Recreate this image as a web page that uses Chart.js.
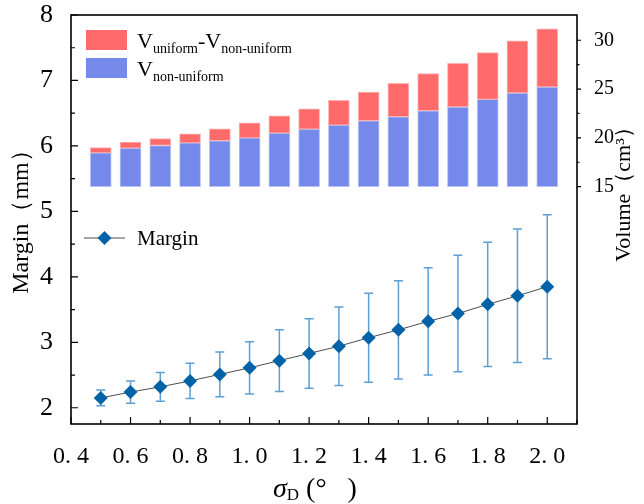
<!DOCTYPE html>
<html>
<head>
<meta charset="utf-8">
<script src="https://cdn.jsdelivr.net/npm/chart.js@4.4.0/dist/chart.umd.min.js"></script>
<style>
    body { margin: 0; background: #fff; }
    #wrap { width: 644px; height: 504px; }
</style>
</head>
<body>
<div id="wrap"><canvas id="chart" width="644" height="504"></canvas></div>
<script>
// values
var sigma = [0.5, 0.6, 0.7, 0.8, 0.9, 1.0, 1.1, 1.2, 1.3, 1.4, 1.5, 1.6, 1.7, 1.8, 1.9, 2.0];
var marginMean = [2.15, 2.24, 2.32, 2.41, 2.51, 2.61, 2.72, 2.83, 2.94, 3.07, 3.19, 3.32, 3.44, 3.58, 3.71, 3.85];
var marginSd = [0.12, 0.17, 0.22, 0.27, 0.34, 0.40, 0.47, 0.53, 0.60, 0.68, 0.75, 0.82, 0.89, 0.95, 1.02, 1.10];
var vNonUniform = [18.46, 18.95, 19.21, 19.49, 19.70, 20.00, 20.49, 20.90, 21.31, 21.75, 22.16, 22.78, 23.16, 23.94, 24.60, 25.21];
var vUniform = [19.00, 19.56, 19.93, 20.41, 20.93, 21.54, 22.26, 22.98, 23.84, 24.70, 25.58, 26.58, 27.64, 28.74, 29.94, 31.17];
var barBase = 15;

var xTicks = [0.4, 0.6, 0.8, 1.0, 1.2, 1.4, 1.6, 1.8, 2.0];
var xTickLabels = ['0. 4', '0. 6', '0. 8', '1. 0', '1. 2', '1. 4', '1. 6', '1. 8', '2. 0'];
var yTicks = [2, 3, 4, 5, 6, 7, 8];
var y2Ticks = [15, 20, 25, 30];

var RED = '#ff6b6b', BLUE = '#7489ea', DIAMOND = '#0063a8', ERR = '#5b9fd6';
var SERIF = '"Liberation Serif", "DejaVu Serif", serif';

function midpoints(arr) {
    var out = [];
    for (var i = 0; i < arr.length - 1; i++) out.push((arr[i] + arr[i + 1]) / 2);
    return out;
}

// draws a run of text pieces, some of them as subscripts
function drawRuns(ctx, runs, x, y) {
    runs.forEach(function (r) {
        ctx.font = r.font;
        ctx.fillText(r.t, x, y + (r.dy || 0));
        x += ctx.measureText(r.t).width;
    });
}

// keep the chart area fixed: no extra padding from edge labels
function noPad(s) {
    s.paddingLeft = 0; s.paddingRight = 0; s.paddingTop = 0; s.paddingBottom = 0;
}

var decorations = {
    id: 'decorations',
    beforeDatasetsDraw: function (chart) {
        var ctx = chart.ctx, xs = chart.scales.x, ys = chart.scales.y;
        ctx.save();
        ctx.strokeStyle = ERR;
        ctx.lineWidth = 1.5;
        sigma.forEach(function (s, i) {
            var px = xs.getPixelForValue(s);
            var top = ys.getPixelForValue(marginMean[i] + marginSd[i]);
            var bot = ys.getPixelForValue(marginMean[i] - marginSd[i]);
            ctx.beginPath();
            ctx.moveTo(px, top); ctx.lineTo(px, bot);
            ctx.moveTo(px - 4.5, top); ctx.lineTo(px + 4.5, top);
            ctx.moveTo(px - 4.5, bot); ctx.lineTo(px + 4.5, bot);
            ctx.stroke();
        });
        ctx.restore();
    },
    afterDraw: function (chart) {
        var ctx = chart.ctx, a = chart.chartArea;
        var xs = chart.scales.x, ys = chart.scales.y, y2 = chart.scales.y2;
        ctx.save();

        // frame
        ctx.strokeStyle = '#000';
        ctx.lineWidth = 1.6;
        ctx.strokeRect(a.left, a.top, a.right - a.left, a.bottom - a.top);

        // ticks: bottom and left inward, right outward
        ctx.lineWidth = 1.2;
        ctx.beginPath();
        xTicks.forEach(function (v) {
            var p = xs.getPixelForValue(v);
            ctx.moveTo(p, a.bottom); ctx.lineTo(p, a.bottom - 7);
        });
        midpoints(xTicks.concat([2.2])).forEach(function (v) {
            var p = xs.getPixelForValue(v);
            ctx.moveTo(p, a.bottom); ctx.lineTo(p, a.bottom - 4);
        });
        yTicks.forEach(function (v) {
            var p = ys.getPixelForValue(v);
            ctx.moveTo(a.left, p); ctx.lineTo(a.left + 7, p);
        });
        midpoints(yTicks).forEach(function (v) {
            var p = ys.getPixelForValue(v);
            ctx.moveTo(a.left, p); ctx.lineTo(a.left + 4, p);
        });
        y2Ticks.forEach(function (v) {
            var p = y2.getPixelForValue(v);
            ctx.moveTo(a.right, p); ctx.lineTo(a.right + 4, p);
        });
        midpoints(y2Ticks).forEach(function (v) {
            var p = y2.getPixelForValue(v);
            ctx.moveTo(a.right, p); ctx.lineTo(a.right + 2.5, p);
        });
        ctx.stroke();

        // bar legend
        var ds = chart.data.datasets;
        ctx.fillStyle = ds[1].backgroundColor;
        ctx.fillRect(86, 30, 41, 20);
        ctx.fillStyle = ds[2].backgroundColor;
        ctx.fillRect(86, 58, 41, 20);
        ctx.fillStyle = '#000';
        ctx.textBaseline = 'alphabetic';
        ctx.textAlign = 'left';
        var big = '22px ' + SERIF, small = '14px ' + SERIF;
        drawRuns(ctx, [
            {t: 'V', font: big}, {t: 'uniform', font: small, dy: 5},
            {t: '-', font: big}, {t: 'V', font: big}, {t: 'non-uniform', font: small, dy: 5}
        ], 137, 48);
        drawRuns(ctx, [
            {t: 'V', font: big}, {t: 'non-uniform', font: small, dy: 5}
        ], 137, 76);

        // line legend
        ctx.strokeStyle = ds[0].borderColor;
        ctx.lineWidth = 1;
        ctx.beginPath();
        ctx.moveTo(84, 238); ctx.lineTo(125, 238);
        ctx.stroke();
        ctx.fillStyle = DIAMOND;
        ctx.beginPath();
        ctx.moveTo(104.5, 231); ctx.lineTo(111.5, 238); ctx.lineTo(104.5, 245); ctx.lineTo(97.5, 238);
        ctx.closePath();
        ctx.fill();
        ctx.fillStyle = '#000';
        ctx.font = '21px ' + SERIF;
        ctx.fillText('Margin', 137, 245);

        // axis titles
        ctx.textAlign = 'center';
        ctx.textBaseline = 'middle';
        ctx.font = '24px ' + SERIF;
        ctx.save();
        ctx.translate(22, 216);
        ctx.rotate(-Math.PI / 2);
        ctx.fillText('Margin（mm）', 0, 0);
        ctx.restore();
        ctx.font = '22px ' + SERIF;
        ctx.save();
        ctx.translate(624, 189);
        ctx.rotate(-Math.PI / 2);
        ctx.fillText('Volume（cm³）', 0, 0);
        ctx.restore();

        ctx.textAlign = 'left';
        ctx.textBaseline = 'alphabetic';
        drawRuns(ctx, [
            {t: 'σ', font: 'italic 28px ' + SERIF},
            {t: 'D', font: '17px ' + SERIF, dy: 3},
            {t: ' (°   )', font: '28px ' + SERIF}
        ], 273, 497);
        ctx.restore();
    }
};

function makeChart() {
    var canvas = document.getElementById('chart');
    var tickFont = function (size) { return {family: SERIF, size: size}; };
    return new Chart(canvas, {
        data: {
            datasets: [
                {
                    type: 'line',
                    label: 'Margin',
                    yAxisID: 'y',
                    data: sigma.map(function (s, i) { return {x: s, y: marginMean[i]}; }),
                    borderColor: '#4d4d4d',
                    borderWidth: 1,
                    pointStyle: 'rectRot',
                    pointRadius: 7,
                    pointBorderWidth: 0,
                    pointBackgroundColor: DIAMOND,
                    pointBorderColor: DIAMOND,
                    tension: 0
                },
                {
                    type: 'bar',
                    label: 'V_uniform-V_non-uniform',
                    yAxisID: 'y2',
                    data: sigma.map(function (s, i) { return {x: s, y: [vNonUniform[i], vUniform[i]]}; }),
                    backgroundColor: RED,
                    borderColor: '#ffb2b2',
                    borderWidth: 1,
                    borderSkipped: false,
                    barThickness: 21,
                    grouped: false
                },
                {
                    type: 'bar',
                    label: 'V_non-uniform',
                    yAxisID: 'y2',
                    data: sigma.map(function (s, i) { return {x: s, y: [barBase, vNonUniform[i]]}; }),
                    backgroundColor: BLUE,
                    borderColor: '#b9c3f5',
                    borderWidth: 1,
                    borderSkipped: false,
                    barThickness: 21,
                    grouped: false
                }
            ]
        },
        options: {
            responsive: false,
            animation: false,
            layout: {padding: {top: 15, left: 0, right: 0, bottom: 0}},
            plugins: {legend: {display: false}, tooltip: {enabled: false}},
            scales: {
                x: {
                    type: 'linear',
                    position: 'bottom',
                    offset: false,
                    min: 0.4,
                    max: 2.1,
                    grid: {display: false, offset: false},
                    border: {display: false},
                    afterBuildTicks: function (s) { s.ticks = xTicks.map(function (v) { return {value: v}; }); },
                    afterFit: function (s) { s.height = 80; noPad(s); },
                    ticks: {
                        font: tickFont(24), color: '#000', padding: 10,
                        autoSkip: false, maxRotation: 0,
                        callback: function (v, i) { return xTickLabels[i]; }
                    }
                },
                y: {
                    type: 'linear',
                    position: 'left',
                    min: 1.752,
                    max: 8,
                    grid: {display: false},
                    border: {display: false},
                    afterBuildTicks: function (s) { s.ticks = yTicks.map(function (v) { return {value: v}; }); },
                    afterFit: function (s) { s.width = 71; noPad(s); },
                    ticks: {font: tickFont(26), color: '#000', padding: 10}
                },
                y2: {
                    type: 'linear',
                    position: 'right',
                    min: -9.33,
                    max: 32.59,
                    grid: {display: false},
                    border: {display: false},
                    afterBuildTicks: function (s) { s.ticks = y2Ticks.map(function (v) { return {value: v}; }); },
                    afterFit: function (s) { s.width = 67; noPad(s); },
                    ticks: {font: tickFont(20), color: '#000', padding: 9}
                }
            }
        },
        plugins: [decorations]
    });
}

document.addEventListener('DOMContentLoaded', function () {
    makeChart();
});
</script>
</body>
</html>
